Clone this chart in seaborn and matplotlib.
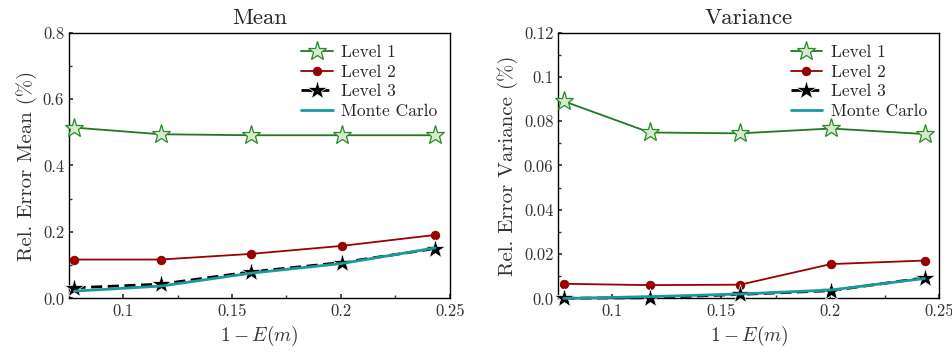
import matplotlib
matplotlib.use("Agg")
import matplotlib.pyplot as plt
import seaborn as sns
import pandas as pd
from matplotlib.ticker import FixedLocator, FixedFormatter, AutoMinorLocator

# x values: 1 - E(m)
x_vals = [0.0777, 0.1172, 0.1587, 0.2003, 0.2433]

mean_level1 = [0.514, 0.494, 0.491, 0.491, 0.491]
mean_level2 = [0.117, 0.117, 0.134, 0.158, 0.191]
mean_level3 = [0.032, 0.043, 0.080, 0.108, 0.150]
mean_mc = [0.022, 0.037, 0.076, 0.105, 0.152]

var_level1 = [0.0890, 0.0749, 0.0745, 0.0767, 0.0742]
var_level2 = [0.0066, 0.0060, 0.0062, 0.0155, 0.0171]
var_level3 = [0.0001, 0.0003, 0.0018, 0.0035, 0.0093]
var_mc = [0.0000, 0.0008, 0.0020, 0.0038, 0.0090]

series_names = ["Level 1", "Level 2", "Level 3", "Monte Carlo"]
x_ticks = [0.1, 0.15, 0.2, 0.25]
x_tick_labels = ["0.1", "0.15", "0.2", "0.25"]
mean_ticks = [0.0, 0.2, 0.4, 0.6, 0.8]
mean_tick_labels = ["0.0", "0.2", "0.4", "0.6", "0.8"]
var_ticks = [0.0, 0.02, 0.04, 0.06, 0.08, 0.1, 0.12]
var_tick_labels = ["0.0", "0.02", "0.04", "0.06", "0.08", "0.1", "0.12"]

sns.set_theme(style="ticks")
plt.rcParams["font.family"] = ["cmr10", "DejaVu Serif"]
plt.rcParams["mathtext.fontset"] = "cm"
plt.rcParams["axes.unicode_minus"] = False
plt.rcParams["axes.formatter.use_mathtext"] = True

styles = {
    "Level 1": dict(color="#1f7a1f", marker="*", markersize=14, markerfacecolor="#d4eccc",
                    markeredgecolor="#2a8a2a", markeredgewidth=0.9, linestyle="-", linewidth=1.3),
    "Level 2": dict(color="#990000", marker="o", markersize=6, markerfacecolor="#990000",
                    markeredgecolor="#990000", linestyle="-", linewidth=1.3),
    "Level 3": dict(color="black", marker="*", markersize=15, markerfacecolor="black",
                    markeredgecolor="white", markeredgewidth=0.5, linestyle=(0, (4, 2)), linewidth=2.0),
    "Monte Carlo": dict(color="#1a9a9a", marker=None, linestyle="-", linewidth=2.0),
}


def draw_panel(ax, values, title, ylabel, ylim, yticks, ylabels):
    for name, vals in zip(series_names, values):
        df = pd.DataFrame({"x": x_vals, "y": vals})
        sns.lineplot(data=df, x="x", y="y", ax=ax, label=name, clip_on=False,
                     zorder=3, **styles[name])
    ax.set_xlim(0.0752, 0.25)
    ax.set_ylim(*ylim)
    ax.xaxis.set_major_locator(FixedLocator(x_ticks))
    ax.xaxis.set_major_formatter(FixedFormatter(x_tick_labels))
    ax.yaxis.set_major_locator(FixedLocator(yticks))
    ax.yaxis.set_major_formatter(FixedFormatter(ylabels))
    ax.xaxis.set_minor_locator(AutoMinorLocator(2))
    ax.yaxis.set_minor_locator(AutoMinorLocator(2))
    ax.tick_params(which="both", direction="in", labelsize=12, colors="#333333",
                   top=False, right=False)
    ax.tick_params(which="major", length=3)
    ax.tick_params(which="minor", length=2)
    ax.set_title(title, fontsize=16.5, pad=6)
    ax.set_xlabel(r"$1 - E(m)$", fontsize=14, color="#333333")
    ax.set_ylabel(ylabel, fontsize=15, color="#333333")
    for sp in ax.spines.values():
        sp.set_linewidth(1.0)
        sp.set_color("black")
    ax.legend(loc="upper right", frameon=False, fontsize=12.5, handlelength=1.8,
              handletextpad=0.5, labelspacing=0.25, borderaxespad=0.3)


fig = plt.figure(figsize=(9.52, 3.54), dpi=100)
ax1 = fig.add_axes([0.0725, 0.157, 0.400, 0.751])
ax2 = fig.add_axes([0.5865, 0.157, 0.400, 0.751])

draw_panel(ax1, [mean_level1, mean_level2, mean_level3, mean_mc], "Mean",
           "Rel. Error Mean (%)", (0, 0.8), mean_ticks, mean_tick_labels)
draw_panel(ax2, [var_level1, var_level2, var_level3, var_mc], "Variance",
           "Rel. Error Variance (%)", (0, 0.12), var_ticks, var_tick_labels)

fig.savefig("out.png", dpi=100)
